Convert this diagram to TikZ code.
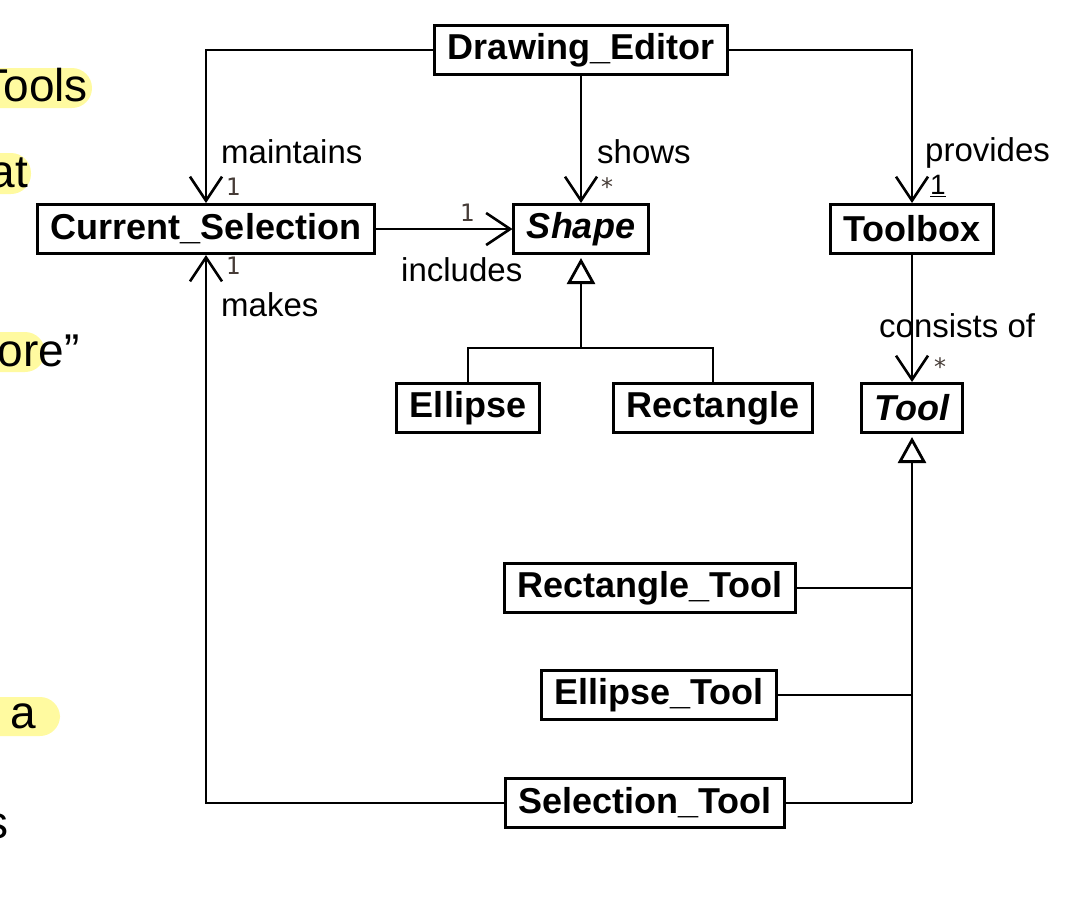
\documentclass[tikz,border=0pt]{standalone}
\usepackage{fontspec}
\setmainfont{Liberation Sans}
\newfontfamily\multfont{DejaVu Sans Mono}
\usetikzlibrary{arrows.meta, calc}
\definecolor{hlyellow}{RGB}{255,250,160}
\definecolor{multgray}{RGB}{70,60,55}
\tikzset{
    % Classes
    cls/.style={rectangle, draw=black, line width=3pt, fill=white,
                minimum height=49pt, inner xsep=13pt, inner ysep=4pt,
                font=\fontsize{36}{38}\selectfont\bfseries},
    abscls/.style={cls, font=\fontsize{36}{38}\selectfont\bfseries\itshape},
    % Connectors
    assoc/.style={-{Straight Barb[length=24pt, width=32pt, line width=2.6pt]}, line width=2.6pt},
    plainln/.style={line width=2.6pt},
    genarrow/.style={-{Triangle[open, length=26pt, width=28pt, line width=2.8pt]},
                line width=2.6pt, shorten >=3pt},
    % Labels
    rolelbl/.style={anchor=west, inner sep=0pt, font=\fontsize{33}{35}\selectfont},
    mult/.style={inner sep=0pt, font=\fontsize{24}{26}\selectfont\multfont, text=multgray},
    slidetxt/.style={inner sep=0pt, anchor=base east, font=\fontsize{46}{50}\selectfont},
}

\begin{document}
\begin{tikzpicture}[x=1pt, y=-1pt]
\useasboundingbox (0,0) rectangle (1070,898);

% slide text behind the diagram
\fill[hlyellow, rounded corners=20pt] (-30,68) rectangle (92,108);
\fill[hlyellow, rounded corners=20pt] (-30,153) rectangle (31,194);
\fill[hlyellow, rounded corners=20pt] (-30,332) rectangle (45,372);
\fill[hlyellow, rounded corners=20pt] (-30,697) rectangle (60,736);
\node[slidetxt] (s1) at (88,101) {Tools};
\node[slidetxt] (s2) at (28,187) {at};
\node[slidetxt] (s3) at (80,366) {ore”};
\node[slidetxt] (s4) at (36,728) {a};
\node[slidetxt] (s5) at (9,838) {s};

% classes
\node[cls]    (ed) at (581,50)  {Drawing\_Editor};
\node[cls]    (cs) at (206,229) {Current\_Selection};
\node[abscls] (sh) at (581,229) {Shape};
\node[cls]    (tb) at (912,229) {Toolbox};
\node[cls]    (el) at (468,408) {Ellipse};
\node[cls]    (re) at (713,408) {Rectangle};
\node[abscls] (tl) at (912,408) {Tool};
\node[cls]    (rt) at (650,588) {Rectangle\_Tool};
\node[cls]    (et) at (659,695) {Ellipse\_Tool};
\node[cls]    (st) at (645,803) {Selection\_Tool};

\coordinate (shj) at (581,348);
\coordinate (tlj) at (912,803);

% role names
\node[rolelbl] (lmaint) at (221,152) {maintains};
\node[rolelbl] (lshows) at (597,152) {shows};
\node[rolelbl] (lprov)  at (925,153) {provides};
\node[rolelbl] (lincl)  at (401,270) {includes};
\node[rolelbl] (lmakes) at (221,305) {makes};
\node[rolelbl] (lcons)  at (879,326) {consists of};

% multiplicities
\node[mult] (m1) at (233,187) {1};
\node[mult] (m2) at (607,187) {*};
\node[mult] (m3) at (467,213) {1};
\node[mult] (m4) at (233,266) {1};
\node[mult] (m5) at (940,367) {*};
\node[mult, text=black, font=\fontsize{28}{30}\selectfont] (m6) at (938,186) {\underline{1}};

% associations
\draw[assoc] (ed.west) -| (cs.north);
\draw[assoc] (ed.south) -- (sh.north);
\draw[assoc] (ed.east) -| (tb.north);
\draw[assoc] (cs.east) -- (sh.west);
\draw[assoc] (tb.south) -- (tl.north);
\draw[assoc] (st.west) -| (cs.south);

% generalizations
\draw[genarrow] (shj) -- (sh.south);
\draw[plainln] (el.north) -- (el.north |- shj) -- (re.north |- shj) -- (re.north);
\draw[genarrow] (tlj) -- (tl.south);
\draw[plainln] (rt.east) -- (rt.east -| tlj);
\draw[plainln] (et.east) -- (et.east -| tlj);
\draw[plainln] (st.east) -- (tlj);
\end{tikzpicture}
\end{document}
